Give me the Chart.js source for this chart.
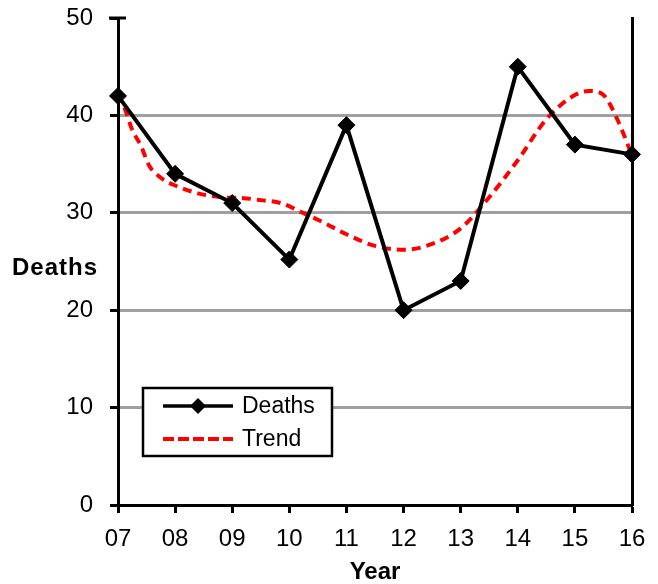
<!DOCTYPE html>
<html>
<head>
<meta charset="utf-8">
<script src="https://cdn.jsdelivr.net/npm/chart.js@4/dist/chart.umd.min.js"></script>
<style>
html,body{margin:0;padding:0;background:#fff;}
#wrap{width:658px;height:584px;position:relative;}
</style>
</head>
<body>
<div id="wrap"><canvas id="c" width="658" height="584"></canvas></div>
<script>
// ---- data ----
const years = ['07','08','09','10','11','12','13','14','15','16'];
const deaths = [42, 34, 31, 25.2, 39, 20, 23, 45, 37, 36];
// trend curve (x = position along the year axis, 0 = '07')
const trendX = [0, 0.125, 0.25, 0.4, 0.55, 0.75, 1, 1.4, 1.8, 2.2, 2.5, 2.85, 3.2, 3.6, 4, 4.5, 5, 5.5, 6, 6.5, 7, 7.5, 8, 8.25, 8.5, 8.75, 9];
const trendY = [42.2, 40.6, 38.5, 36.9, 34.8, 33.6, 32.8, 32.0, 31.6, 31.5, 31.3, 31.0, 30.1, 29.0, 27.8, 26.6, 26.2, 26.8, 28.4, 31.6, 35.4, 39.6, 42.1, 42.5, 42.1, 39.5, 35.9];
const yTicks = [0, 10, 20, 30, 40, 50];
const yTitle = 'Deaths';
const xTitle = 'Year';
const seriesNames = ['Deaths', 'Trend'];

const FONT = '"Liberation Sans", Arial, sans-serif';

const deathsPts = deaths.map((v, i) => ({x: i, y: v}));
const trendPts = trendX.map((x, i) => ({x: x, y: trendY[i]}));

const extras = {
  id: 'extras',
  afterDraw(chart) {
    const ctx = chart.ctx;
    const ca = chart.chartArea;
    ctx.save();
    // cross tick at top of y axis
    ctx.strokeStyle = '#000';
    ctx.lineWidth = 3;
    ctx.beginPath();
    ctx.moveTo(ca.left - 9, ca.top); ctx.lineTo(ca.left + 8, ca.top);
    ctx.stroke();
    // y title (horizontal)
    ctx.fillStyle = '#000';
    ctx.font = 'bold 24px ' + FONT;
    ctx.textAlign = 'left';
    ctx.textBaseline = 'middle';
    try { ctx.letterSpacing = '1px'; } catch (e) {}
    ctx.fillText(yTitle, 12, 268);
    try { ctx.letterSpacing = '0px'; } catch (e) {}

    // legend box
    const lx = 143, ly = 388, lw = 189, lh = 68;
    ctx.fillStyle = '#fff';
    ctx.fillRect(lx, ly, lw, lh);
    ctx.strokeStyle = '#000';
    ctx.lineWidth = 2.5;
    ctx.strokeRect(lx, ly, lw, lh);
    // Deaths entry
    ctx.lineWidth = 3.5;
    ctx.beginPath();
    ctx.moveTo(163, 406); ctx.lineTo(233, 406);
    ctx.stroke();
    ctx.fillStyle = '#000';
    ctx.beginPath();
    ctx.moveTo(198, 398); ctx.lineTo(206, 406); ctx.lineTo(198, 414); ctx.lineTo(190, 406);
    ctx.closePath(); ctx.fill();
    // Trend entry
    ctx.strokeStyle = '#ff0000';
    ctx.lineWidth = 4;
    ctx.setLineDash([11, 4]);
    ctx.beginPath();
    ctx.moveTo(163, 439); ctx.lineTo(233, 439);
    ctx.stroke();
    ctx.setLineDash([]);
    ctx.fillStyle = '#000';
    ctx.font = '23px ' + FONT;
    ctx.textAlign = 'left';
    ctx.textBaseline = 'middle';
    ctx.fillText(seriesNames[0], 242, 407);
    ctx.fillText(seriesNames[1], 242, 440);
    ctx.restore();
  }
};

function noPadV(s) { s.paddingTop = 0; s.paddingBottom = 0; }

new Chart(document.getElementById('c'), {
  type: 'line',
  data: {
    datasets: [
      {
        label: seriesNames[1],
        data: trendPts,
        borderColor: '#ff0000',
        borderWidth: 4,
        borderDash: [9, 6],
        pointRadius: 0,
        cubicInterpolationMode: 'monotone',
        fill: false,
        clip: false,
        order: 2
      },
      {
        label: seriesNames[0],
        data: deathsPts,
        borderColor: '#000',
        borderWidth: 4,
        pointStyle: 'rectRot',
        pointRadius: 8.5,
        pointBackgroundColor: '#000',
        pointBorderColor: '#000',
        pointBorderWidth: 1,
        tension: 0,
        fill: false,
        clip: false,
        order: 1
      }
    ]
  },
  options: {
    responsive: false,
    animation: false,
    layout: {padding: {top: 18, right: 26, left: 0, bottom: 0}},
    plugins: {legend: {display: false}, tooltip: {enabled: false}},
    scales: {
      x: {
        type: 'linear',
        min: 0, max: years.length - 1,
        afterFit(s) { s.height = 79; s.paddingLeft = 0; s.paddingRight = 0; },
        afterBuildTicks(s) { s.ticks = years.map((_, i) => ({value: i})); },
        ticks: {
          stepSize: 1, autoSkip: false, maxRotation: 0, padding: 12,
          color: '#000', font: {family: FONT, size: 24},
          callback: (v) => years[v]
        },
        grid: {drawOnChartArea: false, tickColor: '#000', tickLength: 8, tickWidth: 3},
        border: {color: '#000', width: 3},
        title: {display: true, text: xTitle, color: '#000', font: {family: FONT, size: 24, weight: 'bold', lineHeight: 1.0}, padding: {top: 0, bottom: 0}}
      },
      y: {
        position: 'left',
        min: 0, max: 50,
        afterFit(s) { s.width = 118; noPadV(s); },
        afterBuildTicks(s) { s.ticks = yTicks.map(v => ({value: v})); },
        ticks: {padding: 17, color: '#000', font: {family: FONT, size: 24}},
        grid: {
          color: (c) => (c.tick && (c.tick.value === 0 || c.tick.value === 50)) ? 'rgba(0,0,0,0)' : '#a0a0a0',
          lineWidth: 3, tickColor: '#000', tickLength: 8, tickWidth: 3
        },
        border: {color: '#000', width: 3}
      },
      y2: {
        position: 'right',
        display: true,
        min: 0, max: 50,
        afterFit(s) { s.width = 0; noPadV(s); },
        ticks: {display: false},
        grid: {drawOnChartArea: false, drawTicks: false},
        border: {color: '#000', width: 3}
      }
    }
  },
  plugins: [extras]
});
</script>
</body>
</html>
